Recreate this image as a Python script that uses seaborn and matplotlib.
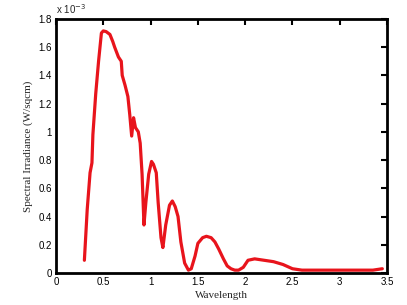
import matplotlib
matplotlib.use("Agg")
import matplotlib.pyplot as plt
import seaborn as sns
import pandas as pd

wavelength = [0.30, 0.33, 0.36, 0.38, 0.39, 0.42, 0.45, 0.48, 0.50, 0.53, 0.57, 0.60,
              0.62, 0.66, 0.69, 0.70, 0.73, 0.76, 0.78, 0.80, 0.82, 0.84, 0.85, 0.87,
              0.89, 0.91, 0.93, 0.95, 0.98, 1.01, 1.03, 1.06, 1.08, 1.11, 1.13, 1.16,
              1.20, 1.23, 1.26, 1.29, 1.32, 1.36, 1.40, 1.43, 1.47, 1.50, 1.55, 1.59,
              1.64, 1.68, 1.72, 1.77, 1.81, 1.85, 1.89, 1.93, 1.98, 2.03, 2.10, 2.20,
              2.30, 2.40, 2.50, 2.60, 2.80, 3.00, 3.20, 3.35, 3.45]
irradiance = [0.09, 0.45, 0.71, 0.78, 0.98, 1.27, 1.50, 1.70, 1.715, 1.71, 1.69, 1.64,
              1.60, 1.53, 1.50, 1.40, 1.33, 1.25, 1.12, 0.97, 1.10, 1.03, 1.02, 1.00,
              0.92, 0.70, 0.34, 0.50, 0.70, 0.79, 0.77, 0.71, 0.50, 0.25, 0.18, 0.34,
              0.48, 0.51, 0.47, 0.40, 0.22, 0.07, 0.02, 0.03, 0.12, 0.21, 0.25, 0.26,
              0.25, 0.22, 0.17, 0.10, 0.05, 0.03, 0.02, 0.02, 0.04, 0.09, 0.10, 0.09,
              0.08, 0.06, 0.03, 0.02, 0.02, 0.02, 0.02, 0.02, 0.03]

x_ticks = [0, 0.5, 1, 1.5, 2, 2.5, 3, 3.5]
x_tick_labels = ["0", "0.5", "1", "1.5", "2", "2.5", "3", "3.5"]
y_ticks = [0, 0.2, 0.4, 0.6, 0.8, 1.0, 1.2, 1.4, 1.6, 1.8]
y_tick_labels = ["0", "0.2", "0.4", "0.6", "0.8", "1", "1.2", "1.4", "1.6", "1.8"]

df = pd.DataFrame({"Wavelength": wavelength, "Irradiance": irradiance})

sns.set_style("white")
plt.rcParams['font.family'] = ['Liberation Sans', 'DejaVu Sans']

fig = plt.figure(figsize=(4.07, 3.05), dpi=100)
ax = fig.add_axes([0.1376, 0.105, 0.8134, 0.833])
sns.lineplot(data=df, x="Wavelength", y="Irradiance", sort=False, estimator=None,
             color="#e8141c", linewidth=2.3, ax=ax)

ax.set_xlim(0, 3.5)
ax.set_ylim(0, 1.8)
ax.set_xticks(x_ticks)
ax.set_xticklabels(x_tick_labels)
ax.set_yticks(y_ticks)
ax.set_yticklabels(y_tick_labels)
ax.tick_params(direction="in", length=4, width=1.5, labelsize=7, top=True, right=True,
               colors="black", pad=3)
ax.tick_params(axis="x", labeltop=False)
ax.tick_params(axis="y", labelright=False)
for s in ax.spines.values():
    s.set_visible(True)
    s.set_color("black")
    s.set_linewidth(2.0)

ax.set_xlabel("Wavelength", family="Liberation Serif", fontsize=8, labelpad=3)
ax.set_ylabel("Spectral Irradiance (W/sqcm)", family="Liberation Serif", fontsize=8, labelpad=4)
ax.text(0.0, 1.01, r"x 10$^{-3}$", transform=ax.transAxes, fontsize=7, ha="left", va="bottom")

fig.savefig("out.png", dpi=100, facecolor="white")
